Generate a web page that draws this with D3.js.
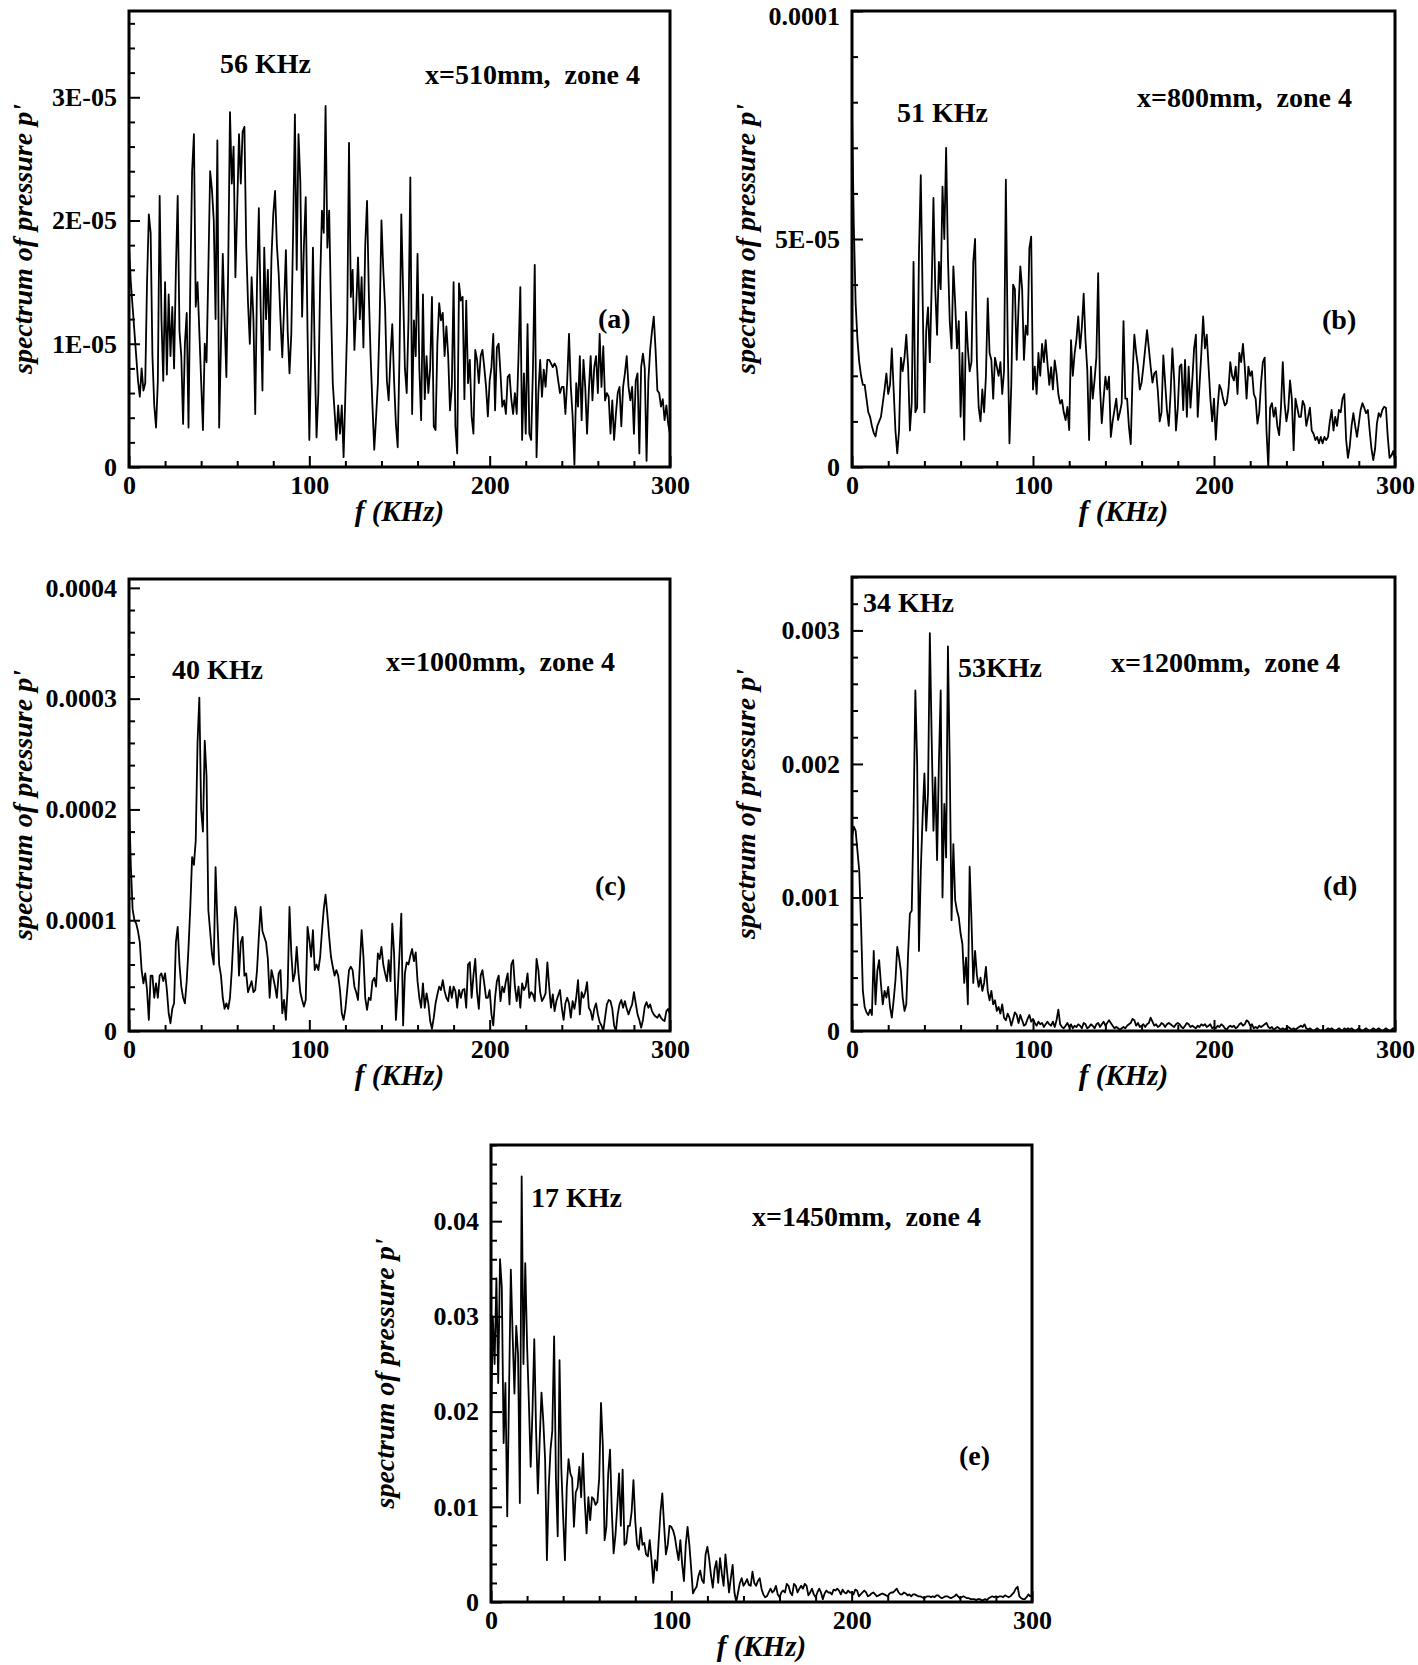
<!DOCTYPE html>
<html><head><meta charset="utf-8">
<script src="https://d3js.org/d3.v7.min.js"></script>
<style>
html,body{margin:0;padding:0;background:#fff;}
svg text{font-family:"Liberation Serif","Times New Roman",serif;font-weight:bold;fill:#000;}
</style></head><body>
<svg id="chart" width="1418" height="1665"></svg>
<script>
// ---------- DATA ----------
const freqStepKHz = 1;               // spectrum bins, 0..300 KHz
const xTickValues = [0, 100, 200, 300];
const xTickLabels = ['0', '100', '200', '300'];

// (a) x=510mm, values in 1E-05
const specA = [
1.8,1.5,1.3,1.1,0.9,0.7,0.57,0.8,0.62,0.68,
1.5,2.05,1.9,0.9,0.5,0.32,0.7,2.2,1.2,0.7,
1.5,0.75,1.4,0.9,1.3,0.8,1.6,2.2,1.1,0.9,
0.35,1.0,1.25,0.32,1.5,2.4,2.7,1.3,1.5,1.1,
0.7,0.3,1.0,0.85,1.6,2.4,2.25,2.0,1.2,2.65,
0.32,1.0,1.73,1.2,0.73,1.6,2.88,2.3,2.6,1.54,
2.1,2.7,2.3,2.72,2.76,1.8,1.33,1.0,1.54,1.2,
0.43,1.5,2.1,1.3,0.62,1.78,1.2,1.6,0.95,1.7,
2.05,2.24,1.8,1.57,1.2,0.89,1.3,1.76,1.1,0.76,
1.08,1.9,2.86,1.6,2.7,2.32,1.22,1.8,2.19,1.1,
0.22,0.9,1.78,0.9,0.24,0.6,1.5,2.08,1.9,2.93,
1.78,2.08,1.3,0.68,0.45,0.22,0.5,0.27,0.5,0.08,
0.6,1.16,2.63,1.38,1.6,0.95,1.3,1.7,1.2,1.54,
0.97,1.8,2.16,1.4,0.89,0.5,0.14,0.4,0.68,1.2,
2.0,1.6,1.3,0.7,0.54,0.9,1.16,0.7,0.35,0.16,
0.9,2.05,1.43,0.8,0.6,1.2,2.35,0.43,1.19,0.9,
1.73,0.8,0.38,1.4,0.55,0.9,0.6,0.8,1.38,0.33,
0.3,1.0,1.33,1.19,1.25,0.9,1.14,0.9,0.46,0.65,
1.5,0.33,0.11,1.49,1.35,1.38,0.55,1.35,0.68,0.87,
0.41,0.27,0.95,0.87,0.68,0.9,0.95,0.81,0.65,0.41,
0.7,0.81,1.08,0.46,0.97,1.0,0.76,0.49,0.54,0.43,
0.73,0.75,0.55,0.43,0.6,0.43,0.9,1.46,0.22,0.76,
0.27,1.16,0.27,0.22,0.8,1.64,0.08,0.6,0.87,0.57,
0.79,0.65,0.87,0.87,0.84,0.81,0.84,0.81,0.7,0.6,
0.65,0.65,0.43,0.7,1.08,0.65,0.41,0.02,0.68,0.49,
0.9,0.38,0.87,0.65,0.27,0.62,0.9,0.54,0.81,0.9,
0.6,1.08,0.65,0.98,0.54,0.6,0.57,0.27,0.54,0.22,
0.43,0.6,0.65,0.33,0.65,0.76,0.9,0.65,0.54,0.65,
0.27,0.7,0.76,0.11,0.81,0.92,0.8,0.05,0.7,0.95,
1.1,1.22,0.95,0.62,0.6,0.49,0.55,0.38,0.5,0.35,0.27];

// (b) x=800mm, values in 1E-05
const specB = [
7.8,5.3,3.6,2.8,2.3,2.0,1.8,1.8,1.5,1.2,
1.1,0.9,0.75,0.67,0.9,1.0,1.1,1.4,1.7,2.05,
1.6,1.8,2.6,1.7,0.8,0.3,0.8,2.4,2.1,2.4,
2.9,2.2,0.8,1.4,4.5,1.2,1.3,4.7,6.4,3.8,
1.2,3.0,3.5,2.3,3.95,5.9,3.9,2.9,4.5,3.9,
6.15,5.0,7.0,4.6,3.2,2.6,4.4,3.6,2.6,3.2,
1.1,2.5,0.6,3.4,2.6,2.1,2.3,4.5,5.0,2.35,
1.3,1.0,1.7,1.2,2.0,3.7,2.5,2.35,1.5,2.4,
2.2,2.0,2.3,1.6,2.1,6.3,2.8,0.52,1.8,4.0,
3.9,2.35,3.5,4.4,3.9,2.35,3.1,2.9,4.8,5.05,
1.7,2.2,1.6,2.5,2.0,2.7,2.3,2.78,2.27,1.8,
2.19,1.7,2.34,2.05,1.6,1.39,1.47,1.2,1.03,1.32,
0.81,2.78,2.0,2.49,2.8,3.3,2.6,3.07,3.8,2.78,
2.13,0.59,2.2,1.5,1.9,2.4,4.25,1.76,0.96,1.5,
1.98,1.7,1.98,0.66,1.0,1.25,1.5,1.03,1.2,1.4,
3.2,1.5,1.5,0.88,0.5,2.0,2.9,2.5,2.2,1.7,
1.85,2.2,2.6,3.0,2.6,2.2,1.85,2.05,2.1,1.65,
1.0,1.2,2.45,1.85,1.25,0.9,1.6,2.6,1.9,0.8,
1.3,2.2,2.25,1.25,2.35,1.1,2.2,1.3,1.9,2.6,
2.9,1.1,1.8,2.5,3.3,2.6,2.9,2.2,1.5,1.0,
1.5,0.6,1.3,1.8,1.7,1.5,1.35,1.4,1.7,2.3,
2.0,1.9,2.2,1.6,2.5,2.3,2.7,2.2,1.5,2.2,
2.0,2.1,1.6,1.5,0.95,1.2,1.85,2.3,2.4,0.8,
0.0,1.3,1.4,1.1,1.3,0.9,0.7,1.3,2.3,1.4,
1.0,1.25,1.9,1.5,0.37,1.5,1.3,1.1,1.1,1.45,
1.35,0.9,1.1,1.3,0.8,0.73,0.59,0.66,0.52,0.66,
0.52,0.66,0.59,0.66,1.0,1.25,0.8,1.1,0.9,1.25,
1.2,1.5,1.6,0.6,0.2,0.45,0.9,1.18,0.9,0.66,
0.95,1.25,1.4,1.3,1.18,1.25,0.8,0.4,0.15,0.4,
0.95,1.18,1.1,1.25,1.32,1.3,0.66,0.2,0.25,0.35,0.15];

// (c) x=1000mm, values in 1E-04
const specC = [
2.1,1.5,1.1,1.0,0.97,0.9,0.8,0.55,0.43,0.52,
0.37,0.1,0.5,0.5,0.3,0.43,0.3,0.5,0.52,0.45,
0.52,0.37,0.16,0.07,0.2,0.25,0.8,0.94,0.6,0.4,
0.3,0.25,0.45,0.75,1.12,1.57,1.5,1.72,2.6,3.01,
2.0,1.8,2.62,2.3,1.09,0.9,0.7,0.6,1.48,1.0,
0.6,0.5,0.3,0.2,0.25,0.2,0.3,0.55,0.88,1.12,
1.0,0.5,0.8,0.85,0.5,0.52,0.35,0.4,0.45,0.35,
0.37,0.55,0.85,1.12,0.9,0.85,0.8,0.65,0.3,0.55,
0.48,0.4,0.3,0.52,0.55,0.16,0.28,0.1,0.4,1.12,
0.7,0.45,0.52,0.76,0.52,0.35,0.28,0.22,0.28,0.94,
0.82,0.67,0.91,0.55,0.6,0.55,0.67,0.9,1.1,1.23,
1.05,0.85,0.67,0.58,0.5,0.55,0.5,0.37,0.16,0.1,
0.2,0.37,0.55,0.58,0.55,0.4,0.35,0.28,0.6,0.91,
0.67,0.3,0.19,0.3,0.28,0.45,0.48,0.4,0.7,0.65,
0.76,0.6,0.52,0.45,0.64,0.45,0.97,0.7,0.1,0.35,
0.7,1.06,0.05,0.52,0.62,0.6,0.68,0.74,0.63,0.71,
0.45,0.3,0.21,0.43,0.21,0.34,0.25,0.09,0.02,0.12,
0.25,0.33,0.4,0.37,0.46,0.36,0.3,0.27,0.4,0.3,
0.4,0.36,0.21,0.37,0.3,0.37,0.38,0.21,0.6,0.62,
0.3,0.5,0.65,0.35,0.2,0.5,0.55,0.43,0.3,0.3,
0.37,0.15,0.05,0.3,0.45,0.5,0.27,0.4,0.35,0.45,
0.52,0.24,0.6,0.64,0.4,0.27,0.4,0.21,0.43,0.37,
0.4,0.52,0.3,0.35,0.33,0.27,0.65,0.55,0.35,0.27,
0.3,0.34,0.62,0.4,0.21,0.33,0.18,0.27,0.32,0.37,
0.21,0.1,0.25,0.3,0.25,0.12,0.27,0.2,0.3,0.46,
0.15,0.35,0.3,0.35,0.44,0.21,0.18,0.1,0.2,0.25,
0.15,0.08,0.05,0.0,0.12,0.24,0.28,0.27,0.2,0.05,
0.0,0.15,0.24,0.28,0.21,0.27,0.2,0.15,0.2,0.24,
0.35,0.25,0.15,0.1,0.03,0.1,0.22,0.26,0.21,0.24,
0.18,0.15,0.13,0.12,0.15,0.12,0.1,0.09,0.18,0.2,0.15];

// (d) x=1200mm, values in 1E-03
const specD = [
1.45,1.53,1.5,1.35,1.2,0.8,0.3,0.18,0.14,0.12,
0.16,0.12,0.6,0.2,0.45,0.53,0.35,0.2,0.3,0.25,
0.33,0.18,0.1,0.23,0.38,0.63,0.55,0.45,0.25,0.15,
0.2,0.58,0.88,0.9,1.6,2.55,2.0,0.6,1.2,1.6,
1.93,1.5,1.78,2.98,2.2,1.5,1.9,1.28,2.0,2.55,
1.0,1.7,1.3,2.88,2.0,0.83,1.4,0.98,0.9,0.85,
0.73,0.65,0.36,0.55,0.2,1.23,0.83,0.36,0.6,0.42,
0.33,0.4,0.3,0.36,0.48,0.3,0.23,0.3,0.2,0.23,
0.15,0.18,0.13,0.2,0.1,0.08,0.13,0.1,0.04,0.09,
0.14,0.12,0.06,0.12,0.08,0.04,0.05,0.09,0.12,0.07,
0.09,0.06,0.04,0.07,0.05,0.06,0.03,0.05,0.07,0.05,
0.04,0.07,0.03,0.08,0.16,0.05,0.03,0.02,0.04,0.06,
0.03,0.05,0.02,0.04,0.03,0.05,0.04,0.02,0.06,0.05,
0.02,0.03,0.05,0.04,0.02,0.05,0.06,0.03,0.05,0.07,
0.04,0.06,0.08,0.06,0.04,0.02,0.03,0.02,0.01,0.02,
0.03,0.02,0.04,0.05,0.06,0.09,0.08,0.04,0.06,0.03,
0.04,0.05,0.03,0.05,0.06,0.1,0.07,0.04,0.05,0.03,
0.04,0.06,0.05,0.03,0.05,0.06,0.05,0.04,0.03,0.05,
0.06,0.05,0.03,0.02,0.04,0.06,0.05,0.03,0.04,0.03,
0.02,0.04,0.03,0.05,0.04,0.05,0.03,0.04,0.05,0.02,
0.03,0.02,0.04,0.03,0.05,0.04,0.02,0.01,0.03,0.04,
0.03,0.04,0.02,0.03,0.05,0.06,0.04,0.05,0.08,0.07,
0.04,0.05,0.02,0.03,0.02,0.04,0.03,0.04,0.05,0.06,
0.03,0.02,0.03,0.01,0.02,0.03,0.02,0.01,0.02,0.01,
0.02,0.03,0.02,0.01,0.02,0.01,0.02,0.03,0.04,0.03,
0.05,0.02,0.01,0.02,0.01,0.0,0.01,0.02,0.01,0.0,
0.01,0.0,0.01,0.02,0.01,0.02,0.01,0.0,0.01,0.02,
0.01,0.0,0.02,0.01,0.02,0.01,0.02,0.01,0.0,0.01,
0.02,0.01,0.0,0.01,0.02,0.01,0.0,0.01,0.02,0.01,
0.01,0.02,0.01,0.0,0.01,0.02,0.01,0.0,0.01,0.02,0.01];

// (e) x=1450mm, values in 1E-02
const specE = [
1.8,3.0,2.5,3.4,2.3,3.6,3.3,1.67,2.3,0.9,
2.2,3.49,2.8,2.19,2.9,2.6,1.04,4.47,2.5,3.56,
2.7,2.1,1.42,2.0,2.76,1.8,1.14,1.7,2.2,1.9,
1.5,0.44,1.2,1.6,1.8,2.79,1.3,0.69,2.54,1.4,
0.9,0.44,1.2,1.5,1.35,1.3,0.79,1.15,1.2,1.42,
1.1,1.56,1.05,0.72,1.1,0.86,1.1,1.08,1.02,1.05,
1.3,2.09,1.65,0.65,0.79,1.35,1.6,0.95,0.51,0.7,
1.0,1.35,0.8,1.39,0.6,0.62,0.8,0.8,0.95,1.28,
0.85,0.6,0.55,0.78,0.6,0.62,0.5,0.48,0.65,0.45,
0.2,0.44,0.33,0.65,0.95,1.14,0.8,0.5,0.6,0.8,
0.79,0.75,0.68,0.55,0.44,0.65,0.4,0.22,0.6,0.79,
0.6,0.35,0.09,0.13,0.16,0.27,0.33,0.23,0.2,0.5,
0.58,0.45,0.28,0.15,0.35,0.43,0.2,0.46,0.3,0.17,
0.5,0.3,0.1,0.25,0.39,0.1,0.0,0.1,0.2,0.25,
0.17,0.2,0.24,0.18,0.17,0.32,0.2,0.17,0.22,0.25,
0.14,0.08,0.05,0.06,0.1,0.14,0.1,0.12,0.17,0.08,
0.05,0.1,0.12,0.1,0.19,0.17,0.1,0.07,0.19,0.17,
0.1,0.14,0.17,0.14,0.19,0.17,0.07,0.1,0.14,0.08,
0.05,0.1,0.14,0.1,0.03,0.09,0.12,0.1,0.1,0.08,
0.13,0.12,0.14,0.12,0.08,0.13,0.1,0.09,0.12,0.1,
0.1,0.08,0.13,0.12,0.06,0.08,0.1,0.12,0.1,0.06,
0.07,0.09,0.1,0.08,0.06,0.07,0.08,0.09,0.08,0.07,
0.06,0.09,0.1,0.1,0.12,0.14,0.1,0.08,0.08,0.1,
0.09,0.07,0.08,0.06,0.08,0.08,0.07,0.06,0.06,0.05,
0.04,0.05,0.06,0.06,0.05,0.06,0.05,0.07,0.07,0.05,
0.04,0.05,0.06,0.06,0.05,0.04,0.05,0.06,0.08,0.06,
0.04,0.05,0.06,0.05,0.04,0.04,0.03,0.03,0.03,0.02,
0.03,0.03,0.02,0.02,0.03,0.02,0.04,0.05,0.06,0.05,
0.06,0.05,0.06,0.06,0.05,0.07,0.06,0.05,0.06,0.08,
0.1,0.14,0.16,0.06,0.04,0.03,0.03,0.05,0.08,0.06,0.07];

const yTicksA = [0, 1e-5, 2e-5, 3e-5];     const yTickLabelsA = ['0', '1E-05', '2E-05', '3E-05'];
const yTicksB = [0, 5e-5, 1e-4];           const yTickLabelsB = ['0', '5E-05', '0.0001'];
const yTicksC = [0, 1e-4, 2e-4, 3e-4, 4e-4]; const yTickLabelsC = ['0', '0.0001', '0.0002', '0.0003', '0.0004'];
const yTicksD = [0, 0.001, 0.002, 0.003];  const yTickLabelsD = ['0', '0.001', '0.002', '0.003'];
const yTicksE = [0, 0.01, 0.02, 0.03, 0.04]; const yTickLabelsE = ['0', '0.01', '0.02', '0.03', '0.04'];

const notesA = ['56 KHz', 'x=510mm,  zone 4', '(a)'];
const notesB = ['51 KHz', 'x=800mm,  zone 4', '(b)'];
const notesC = ['40 KHz', 'x=1000mm,  zone 4', '(c)'];
const notesD = ['34 KHz', '53KHz', 'x=1200mm,  zone 4', '(d)'];
const notesE = ['17 KHz', 'x=1450mm,  zone 4', '(e)'];

const xTitle = 'f (KHz)';
const yTitle = "spectrum of pressure p'";

// ---------- LAYOUT ----------
const panels = [
  {data: specA, unit: 1e-5, yMax: 3.7e-5, yTicks: yTicksA, yLabels: yTickLabelsA, minor: 2e-6,
   box: {x: 129, y: 11, w: 541, h: 456}, notes: notesA, notePos: [[220,73],[425,84],[598,328]]},
  {data: specB, unit: 1e-5, yMax: 1e-4, yTicks: yTicksB, yLabels: yTickLabelsB, minor: 1e-5,
   box: {x: 852, y: 11, w: 543, h: 456}, notes: notesB, notePos: [[897,122],[1137,107],[1322,329]]},
  {data: specC, unit: 1e-4, yMax: 4.08e-4, yTicks: yTicksC, yLabels: yTickLabelsC, minor: 2e-5,
   box: {x: 129, y: 579, w: 541, h: 452}, notes: notesC, notePos: [[172,679],[386,671],[595,895]]},
  {data: specD, unit: 1e-3, yMax: 3.4e-3, yTicks: yTicksD, yLabels: yTickLabelsD, minor: 2e-4,
   box: {x: 852, y: 577, w: 543, h: 454}, notes: notesD, notePos: [[863,612],[958,677],[1111,672],[1323,895]]},
  {data: specE, unit: 1e-2, yMax: 0.048, yTicks: yTicksE, yLabels: yTickLabelsE, minor: 2e-3,
   box: {x: 491, y: 1145, w: 541, h: 457}, notes: notesE, notePos: [[531,1207],[752,1226],[959,1465]]}
];

const svg = d3.select('#chart');
const tickFont = 26, noteFont = 28, titleFont = 28, xTitleFont = 29;
const serif = '"Liberation Serif","Times New Roman",serif';

panels.forEach((p, pi) => {
  const b = p.box;
  const g = svg.append('g').attr('transform', `translate(${b.x},${b.y})`);
  const x = d3.scaleLinear().domain([0, 300]).range([0, b.w]);
  const y = d3.scaleLinear().domain([0, p.yMax]).range([b.h, 0]);

  const cid = 'clip' + pi;
  g.append('clipPath').attr('id', cid).append('rect').attr('width', b.w).attr('height', b.h);

  const eps = p.minor * 1e-3;
  const minorY = d3.range(0, p.yMax + eps, p.minor).filter(v => !p.yTicks.some(t => Math.abs(t - v) < eps));
  const minorX = d3.range(0, 300.001, 20).filter(v => v % 100 !== 0);

  const yMinorAxis = d3.axisLeft(y).tickValues(minorY).tickSize(-6).tickFormat('');
  const yMajorAxis = d3.axisLeft(y).tickValues(p.yTicks).tickSize(-11).tickPadding(12)
      .tickFormat((d, i) => p.yLabels[i]);
  const xMinorAxis = d3.axisBottom(x).tickValues(minorX).tickSize(-6).tickFormat('');
  const xMajorAxis = d3.axisBottom(x).tickValues(xTickValues).tickSize(-11).tickPadding(9)
      .tickFormat((d, i) => xTickLabels[i]);

  const styleAxis = a => {
    a.select('.domain').remove();
    a.selectAll('line').attr('stroke', '#000').attr('stroke-width', 2);
    a.selectAll('text').attr('font-size', tickFont).attr('fill', '#000')
      .style('font-family', serif).style('font-weight', 'bold');
  };
  [yMinorAxis, yMajorAxis].forEach(ax => {
    const a = g.append('g').call(ax);
    styleAxis(a);
    // keep a label sitting on the top edge inside the page
    a.selectAll('text').attr('dy', d => (b.y + y(d) < 16 ? '0.5em' : '0.32em'));
  });
  [xMinorAxis, xMajorAxis].forEach(ax => {
    const a = g.append('g').attr('transform', `translate(0,${b.h})`).call(ax);
    styleAxis(a);
  });

  const line = d3.line().x((d, i) => x(i * freqStepKHz)).y(d => y(d * p.unit));
  g.append('path').datum(p.data).attr('clip-path', `url(#${cid})`)
    .attr('d', line).attr('fill', 'none').attr('stroke', '#000')
    .attr('stroke-width', 1.8).attr('stroke-linejoin', 'round');

  g.append('rect').attr('width', b.w).attr('height', b.h)
    .attr('fill', 'none').attr('stroke', '#000').attr('stroke-width', 3);

  svg.append('text').attr('x', b.x + b.w / 2).attr('y', b.y + b.h + 54)
    .attr('text-anchor', 'middle').attr('font-size', xTitleFont)
    .style('font-style', 'italic').text(xTitle);
  svg.append('text')
    .attr('transform', `translate(${b.x - 107},${b.y + b.h / 2}) rotate(-90)`)
    .attr('text-anchor', 'middle').attr('dominant-baseline', 'central')
    .attr('font-size', titleFont).style('font-style', 'italic').text(yTitle);

  p.notes.forEach((t, i) => {
    svg.append('text').attr('x', p.notePos[i][0]).attr('y', p.notePos[i][1])
      .attr('font-size', noteFont).style('white-space', 'pre').text(t);
  });
});
</script>
</body></html>
